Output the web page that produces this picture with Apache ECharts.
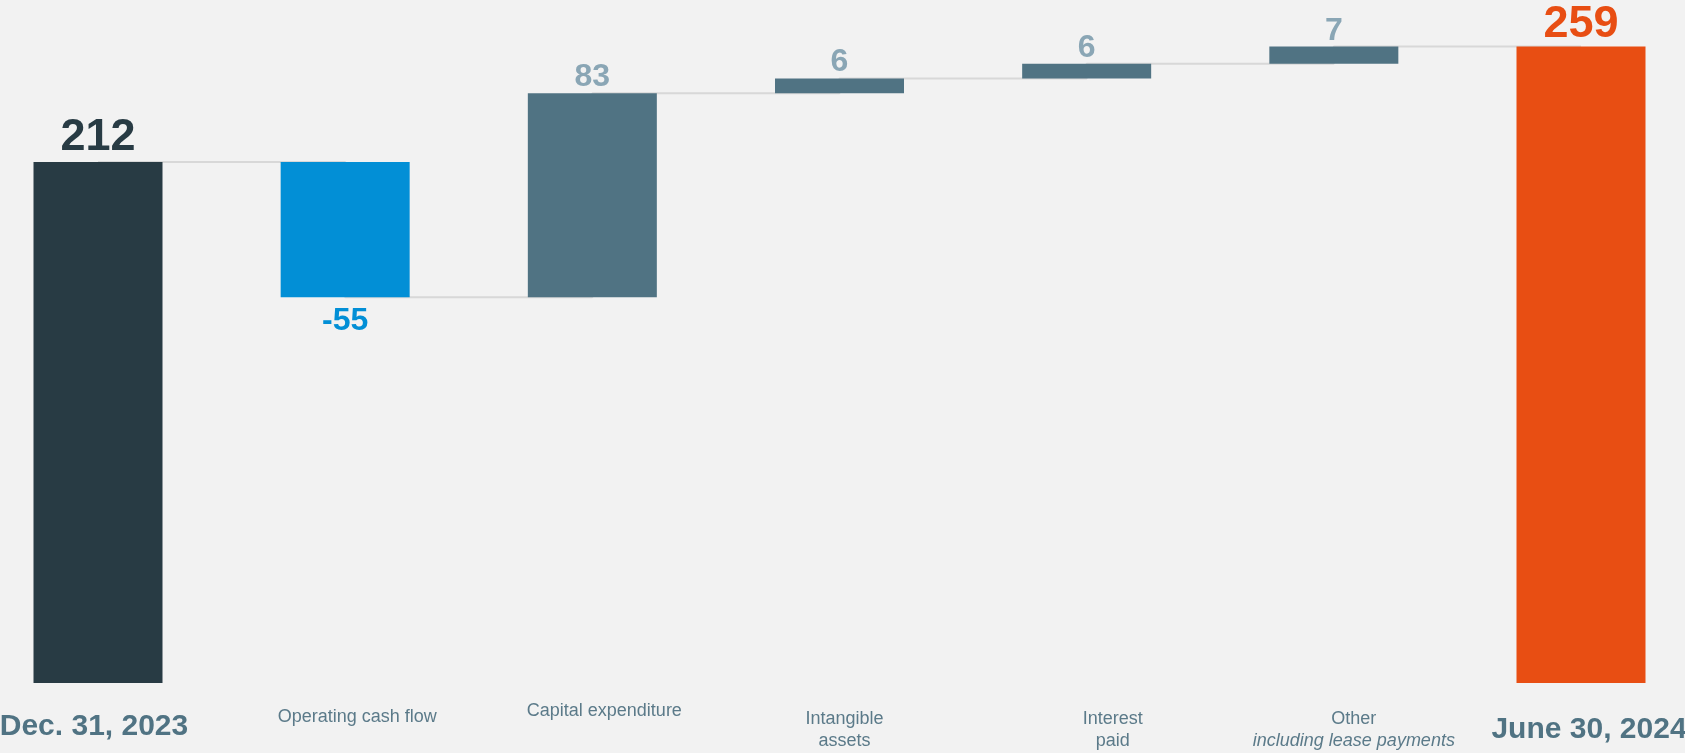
<!DOCTYPE html>
<html>
<head>
<meta charset="utf-8">
<script src="https://cdn.jsdelivr.net/npm/echarts@6/dist/echarts.min.js"></script>
<style>
  html, body { margin: 0; padding: 0; background: #f2f2f2; }
  #chart { width: 1685px; height: 753px; }
</style>
</head>
<body>
<div id="chart"></div>
<script>
// 数据
const categories = [
  "Dec. 31, 2023",
  "Operating cash flow",
  "Capital expenditure",
  "Intangible\nassets",
  "Interest\npaid",
  "Other\nincluding lease payments",
  "June 30, 2024",
];
const startValue = 212;
const changes = [-55, 83, 6, 6, 7];
const endValue = 259;

const FONT = "'Liberation Sans Narrow', 'Arial Narrow', 'Liberation Sans', Arial, sans-serif";

// 透明底座 + 可见柱
const baseData = [0];
const barData = [startValue];
const levels = [startValue];
let running = startValue;
changes.forEach((c) => {
  const next = running + c;
  baseData.push(Math.min(running, next));
  barData.push(Math.abs(c));
  running = next;
  levels.push(running);
});
baseData.push(0);
barData.push(endValue);
levels.push(endValue);
const shownValues = [startValue, ...changes, endValue];

const barColors = ["#283b44", "#028fd6", "#507383", "#507383", "#507383", "#507383", "#e84e13"];
const valueLabelStyles = [
  { color: "#283b44", fontSize: 45, position: "top", distance: 2 },
  { color: "#028fd6", fontSize: 32, position: "bottom", distance: 8 },
  { color: "#8aa6b5", fontSize: 32, position: "top", distance: 0 },
  { color: "#8aa6b5", fontSize: 32, position: "top", distance: 0 },
  { color: "#8aa6b5", fontSize: 32, position: "top", distance: -1 },
  { color: "#8aa6b5", fontSize: 32, position: "top", distance: -1 },
  { color: "#e84e13", fontSize: 45, position: "top", distance: -1 },
];

// 轴标签: [水平偏移, 首行行高]
const axisLabelLayout = [
  [-4, 38], [12, 18], [12, 6], [5, 22], [26, 22], [20, 22], [8, 44],
];

const rich = {};
categories.forEach((c, i) => {
  const [dx, lh] = axisLabelLayout[i];
  const big = i === 0 || i === categories.length - 1;
  rich["f" + i] = {
    fontFamily: FONT,
    fontSize: big ? 30 : 18,
    fontWeight: big ? "bold" : "normal",
    color: big ? "#507383" : "#5b7a89",
    lineHeight: lh,
    padding: dx > 0 ? [0, 0, 0, dx * 2] : [0, -dx * 2, 0, 0],
  };
  rich["s" + i] = Object.assign({}, rich["f" + i], { lineHeight: 22 });
  rich["i" + i] = Object.assign({}, rich["s" + i], { fontStyle: "italic" });
});

const chart = echarts.init(document.getElementById("chart"));
chart.setOption({
  backgroundColor: "#f2f2f2",
  animation: false,
  grid: { left: 98, right: 104, top: 44, bottom: 70, outerBoundsMode: "none", containLabel: false },
  xAxis: {
    type: "category",
    data: categories,
    boundaryGap: false,
    axisLine: { show: false },
    axisTick: { show: false },
    splitLine: { show: false },
    axisLabel: {
      interval: 0,
      margin: 25,
      verticalAlign: "top",
      formatter: (value, idx) => {
        const lines = value.split("\n");
        return lines
          .map((l, k) => {
            const key = k === 0 ? "f" : idx === 5 ? "i" : "s";
            return "{" + key + idx + "|" + l + "}";
          })
          .join("\n");
      },
      rich: rich,
    },
  },
  yAxis: {
    type: "value",
    min: 0,
    max: 260,
    show: false,
    splitLine: { show: false },
  },
  series: [
    {
      type: "line",
      data: levels,
      step: "end",
      symbol: "none",
      z: 1,
      lineStyle: { color: "#d8d8d8", width: 2 },
      silent: true,
    },
    {
      type: "bar",
      stack: "wf",
      barWidth: 129,
      z: 2,
      itemStyle: { color: "transparent" },
      data: baseData,
      silent: true,
    },
    {
      type: "bar",
      stack: "wf",
      barWidth: 129,
      z: 2,
      data: barData.map((v, i) => ({
        value: v,
        itemStyle: { color: barColors[i] },
        label: {
          show: true,
          position: valueLabelStyles[i].position,
          distance: valueLabelStyles[i].distance,
          color: valueLabelStyles[i].color,
          fontSize: valueLabelStyles[i].fontSize,
          fontWeight: "bold",
          fontFamily: FONT,
          formatter: () => String(shownValues[i]),
        },
      })),
    },
  ],
});
</script>
</body>
</html>
